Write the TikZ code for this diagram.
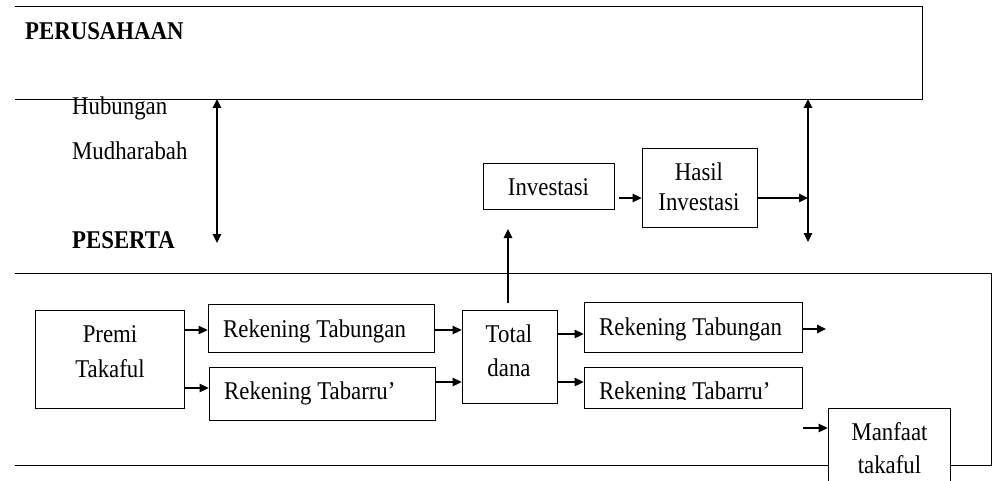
\documentclass[tikz,border=0pt]{standalone}
\usepackage{fontspec}
\setmainfont{Liberation Serif}
\usetikzlibrary{arrows.meta,calc}
\newcommand{\tx}[1]{\scalebox{1}[1.12]{#1}}
\begin{document}
\begin{tikzpicture}[x=1pt,y=-1pt,
  box/.style={draw, line width=0.8pt, fill=white, inner sep=0pt},
  lbl/.style={font=\fontsize{22.8}{27}\selectfont, inner sep=0pt, anchor=base},
  lblw/.style={lbl, anchor=base west},
  lblb/.style={lblw, font=\fontsize{22.8}{27}\selectfont\bfseries},
  tip/.tip={Triangle[length=9pt,width=8.5pt]},
  arr/.style={line width=1.3pt, -tip},
  darr/.style={line width=1.3pt, tip-tip},
  frame/.style={line width=0.8pt}]
\useasboundingbox (0,0) rectangle (992,481);
\clip (0,0) rectangle (992,481);

% frames
\draw[frame] (15,6) -- (922,6) -- (922,99) -- (15,99);
\draw[frame] (15,273) -- (991,273) -- (991,465) -- (15,465);

% labels
\node[lblb] (perusahaan) at (25,40) {\tx{PERUSAHAAN}};
\node[lblw] (hub) at (72,115) {\tx{Hubungan}};
\node[lblw] (mud) at (72,160) {\tx{Mudharabah}};
\node[lblb] (peserta) at (72,248) {\tx{PESERTA}};

% boxes
\node[box, minimum width=131, minimum height=46] (inv) at (548.5,186) {};
\node[box, minimum width=115, minimum height=79] (hasil) at (699.5,187.5) {};
\node[box, minimum width=149, minimum height=98] (premi) at (109.5,359) {};
\node[box, minimum width=226, minimum height=48] (tab1) at (321,328) {};
\node[box, minimum width=226, minimum height=53] (tbr1) at (322,393.5) {};
\node[box, minimum width=95, minimum height=93] (total) at (509.5,356.5) {};
\node[box, minimum width=218, minimum height=50] (tab2) at (693,327) {};
\node[box, minimum width=218, minimum height=41] (tbr2) at (693,387.5) {};
\node[box, minimum width=122, minimum height=100] (manfaat) at (889,458) {};

% box texts
\node[lbl] (invT) at (548.5,195) {\tx{Investasi}};
\node[lbl] (hasilT1) at (699,181) {\tx{Hasil}};
\node[lbl] (hasilT2) at (699,210) {\tx{Investasi}};
\node[lbl] (premiT1) at (110,342) {\tx{Premi}};
\node[lbl] (premiT2) at (110,377) {\tx{Takaful}};
\node[lblw] (tab1T) at (223,337) {\tx{Rekening Tabungan}};
\node[lblw] (tbr1T) at (224,399) {\tx{Rekening Tabarru’}};
\node[lbl] (totalT1) at (509,342) {\tx{Total}};
\node[lbl] (totalT2) at (509,376) {\tx{dana}};
\node[lblw] (tab2T) at (599,335) {\tx{Rekening Tabungan}};
\begin{scope}
\clip (584,368) rectangle (802,399.5);
\node[lblw] (tbr2T) at (599,399) {\tx{Rekening Tabarru’}};
\end{scope}
\node[lbl] (manfaatT1) at (889.5,440) {\tx{Manfaat}};
\node[lbl] (manfaatT2) at (889.5,473) {\tx{takaful}};

% free coordinates
\coordinate (tabOut) at (826,329);
\coordinate (manIn) at (803,428);
\coordinate (vJoin) at (808,198);
\coordinate (leftTop) at (217,99);
\coordinate (leftBot) at (217,243);
\coordinate (rightTop) at (808,99);
\coordinate (rightBot) at (808,242);
\coordinate (upStart) at (508,303);
\coordinate (upEnd) at (508,229);

% connectors
\draw[arr] (premi.east |- 0,330) -- (tab1.west |- 0,330);
\draw[arr] (premi.east |- 0,388) -- (tbr1.west |- 0,388);
\draw[arr] (tab1.east |- 0,330) -- (total.west |- 0,330);
\draw[arr] (tbr1.east |- 0,382) -- (total.west |- 0,382);
\draw[arr] (total.east |- 0,334) -- (tab2.west |- 0,334);
\draw[arr] (total.east |- 0,382) -- (tbr2.west |- 0,382);
\draw[arr] (tab2.east |- tabOut) -- (tabOut);
\draw[arr] (manIn) -- (manfaat.west |- manIn);
\draw[arr] ($(inv.east |- 0,198)+(5,0)$) -- (hasil.west |- 0,198);
\draw[arr] (hasil.east |- vJoin) -- (vJoin);
\draw[arr] (upStart) -- (upEnd);
\draw[darr] (leftBot) -- (leftTop);
\draw[darr] (rightBot) -- (rightTop);
\end{tikzpicture}
\end{document}
